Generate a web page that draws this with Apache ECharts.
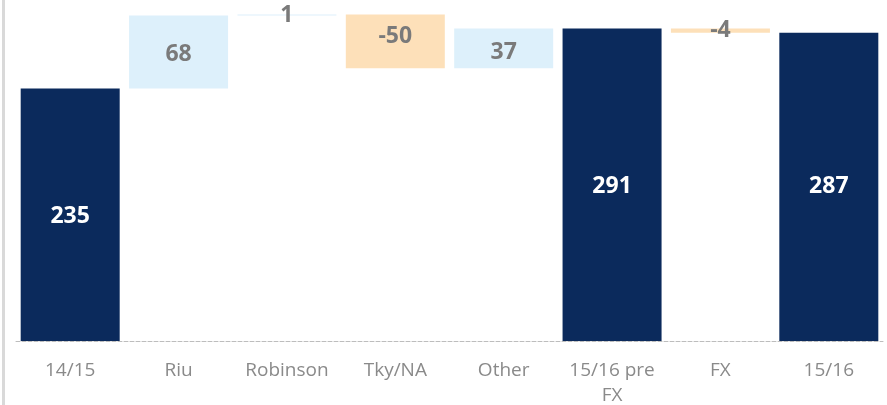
<!DOCTYPE html>
<html>
<head>
<meta charset="utf-8">
<script src="https://cdn.jsdelivr.net/npm/echarts@6/dist/echarts.min.js"></script>
<style>
  html, body { margin: 0; padding: 0; background: #fff; }
  #main { width: 887px; height: 405px; }
</style>
</head>
<body>
<div id="main"></div>
<script>
// waterfall data
var categories = ['14/15', 'Riu', 'Robinson', 'Tky/NA', 'Other', '15/16 pre\nFX', 'FX', '15/16'];
var values = [235, 68, 1, -50, 37, 291, -4, 287];
var isTotal = [true, false, false, false, false, true, false, true];

var navy = '#0b2a5c';
var upColor = '#ddf0fb';
var downColor = '#fde0b9';
var labelGray = '#7a7a7a';

// build stacked series: invisible base + visible bar
var baseData = [], barData = [];
var running = 0;
for (var i = 0; i < values.length; i++) {
    var v = values[i];
    var item;
    if (isTotal[i]) {
        running = v;
        baseData.push(0);
        item = {value: v, itemStyle: {color: navy}, label: {color: '#fff'}};
    } else if (v >= 0) {
        baseData.push(running);
        running += v;
        item = {value: v, itemStyle: {color: upColor}, label: {color: labelGray}};
    } else {
        running += v;
        baseData.push(running);
        item = {value: -v, itemStyle: {color: downColor}, label: {color: labelGray}};
    }
    item.label.formatter = String(v);
    barData.push(item);
}
// small nudges seen in the picture
barData[0].label.offset = [0, 2];
barData[1].label.offset = [0, 2];
barData[3].label.offset = [0, -5];
barData[4].label.offset = [0, 4];
barData[5].label.offset = [0, 2];

var chart = echarts.init(document.getElementById('main'));
chart.setOption({
    backgroundColor: '#fff',
    animation: false,
    grid: {left: 16, right: 4, top: 8, bottom: 64, containLabel: false, outerBoundsMode: 'none'},
    xAxis: {
        type: 'category',
        data: categories,
        axisLine: {lineStyle: {color: '#bdbdbd', type: 'dashed', width: 1}},
        axisTick: {show: false},
        axisLabel: {
            interval: 0,
            color: '#8a8a8a',
            fontFamily: 'Open Sans',
            fontSize: 19,
            lineHeight: 25,
            margin: 17
        }
    },
    yAxis: {
        type: 'value',
        min: 0,
        max: 310,
        show: false,
        splitLine: {show: false}
    },
    graphic: [{
        type: 'rect',
        left: 2,
        top: 0,
        shape: {width: 3, height: 405},
        style: {fill: '#d9d9d9'}
    }],
    series: [{
        type: 'bar',
        stack: 'w',
        barWidth: 99,
        itemStyle: {color: 'transparent'},
        data: baseData,
        silent: true
    }, {
        type: 'bar',
        stack: 'w',
        barWidth: 99,
        label: {
            show: true,
            position: 'inside',
            fontFamily: 'Open Sans',
            fontWeight: 'bold',
            fontSize: 23
        },
        data: barData
    }]
});
</script>
</body>
</html>
